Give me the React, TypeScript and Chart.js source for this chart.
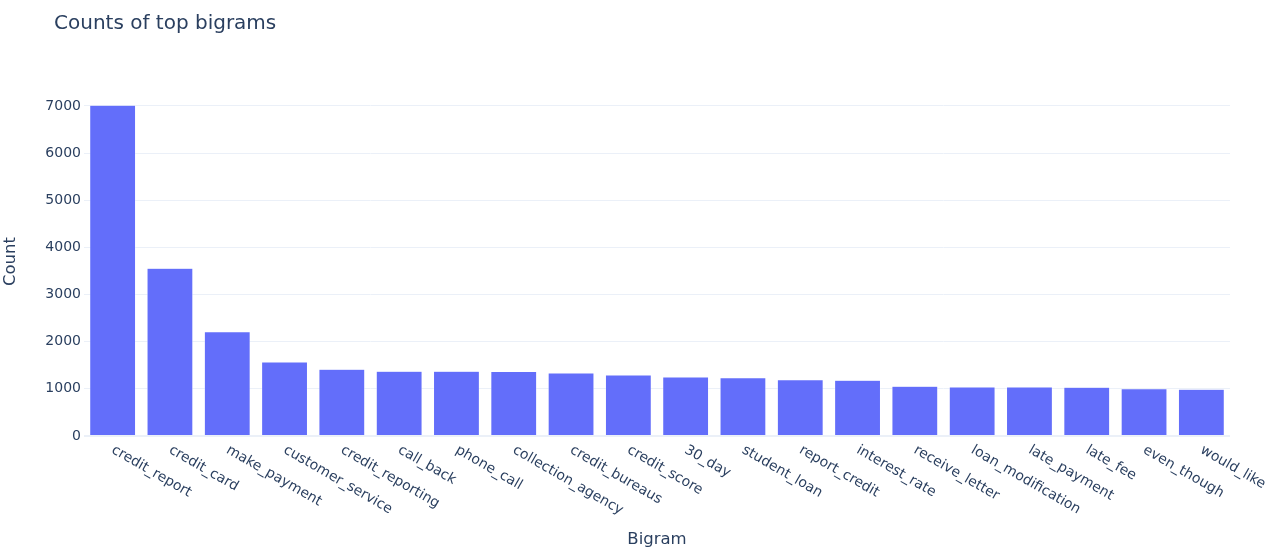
import React, { useEffect, useRef } from 'react';
import { Chart, registerables } from 'chart.js';

Chart.register(...registerables);

const bigrams = [
  'credit_report', 'credit_card', 'make_payment', 'customer_service', 'credit_reporting',
  'call_back', 'phone_call', 'collection_agency', 'credit_bureaus', 'credit_score',
  '30_day', 'student_loan', 'report_credit', 'interest_rate', 'receive_letter',
  'loan_modification', 'late_payment', 'late_fee', 'even_though', 'would_like',
];
const counts = [
  7015, 3557, 2213, 1570, 1414, 1372, 1372, 1365, 1336, 1294,
  1251, 1237, 1195, 1181, 1054, 1040, 1040, 1033, 1004, 990,
];
const countTicks = [0, 1000, 2000, 3000, 4000, 5000, 6000, 7000];

const FONT = '"DejaVu Sans", Verdana, sans-serif';
const TEXT = '#2a3f5f';

// plotly-style labels: rotated 30deg clockwise, hanging from the tick
const bigramLabels = {
  id: 'bigramLabels',
  afterDraw(chart: Chart) {
    const { ctx, scales } = chart;
    const x = scales.x;
    const bottom = chart.chartArea.bottom;
    ctx.save();
    ctx.fillStyle = TEXT;
    ctx.font = `14px ${FONT}`;
    ctx.textAlign = 'left';
    ctx.textBaseline = 'middle';
    bigrams.forEach((lab, i) => {
      ctx.save();
      ctx.translate(x.getPixelForValue(i), bottom + 13);
      ctx.rotate(Math.PI / 6);
      ctx.fillText(lab, 0, 0);
      ctx.restore();
    });
    // chart title
    ctx.font = `20px ${FONT}`;
    ctx.textBaseline = 'alphabetic';
    ctx.fillText('Counts of top bigrams', 54, 29);
    ctx.restore();
  },
};

const App: React.FC = () => {
  const chartRef = useRef<HTMLCanvasElement>(null);
  const chartInstance = useRef<Chart | null>(null);

  useEffect(() => {
    if (!chartRef.current) return;
    if (chartInstance.current) chartInstance.current.destroy();

    chartInstance.current = new Chart(chartRef.current, {
      type: 'bar',
      data: {
        labels: bigrams,
        datasets: [
          {
            data: counts,
            backgroundColor: '#636efa',
            borderColor: '#ffffff',
            borderWidth: 0.5,
            barPercentage: 0.8,
            categoryPercentage: 1,
          },
        ],
      },
      options: {
        responsive: false,
        animation: false,
        layout: { padding: { top: 87, right: 50, bottom: 0, left: 0 } },
        plugins: {
          legend: { display: false },
          tooltip: { enabled: false },
        },
        scales: {
          x: {
            grid: { display: false },
            border: { display: false },
            ticks: { display: false },
            title: {
              display: true,
              text: 'Bigram',
              color: TEXT,
              font: { family: FONT, size: 16.5 },
              padding: { top: 94, bottom: 9 },
            },
            afterFit: (scale) => {
              scale.height = 123;
            },
          },
          y: {
            min: 0,
            max: 7400,
            afterBuildTicks: (scale) => {
              scale.ticks = countTicks.map((v) => ({ value: v }));
            },
            grid: {
              color: '#ebf0f8',
              lineWidth: (c) => (c.tick && c.tick.value === 0 ? 2 : 1),
              drawTicks: false,
            },
            border: { display: false },
            ticks: {
              padding: 3,
              color: TEXT,
              font: { family: FONT, size: 14 },
              callback: (v) => String(v),
            },
            title: {
              display: true,
              text: 'Count',
              color: TEXT,
              font: { family: FONT, size: 16.5 },
              padding: { top: 1, bottom: 0 },
            },
            afterFit: (scale) => {
              scale.width = 84;
            },
          },
        },
      },
      plugins: [bigramLabels],
    });

    return () => {
      if (chartInstance.current) {
        chartInstance.current.destroy();
        chartInstance.current = null;
      }
    };
  }, []);

  return (
    <div style={{ position: 'absolute', left: 0, top: 0, width: 1280, height: 559, background: '#fff' }}>
      <canvas ref={chartRef} width={1280} height={559} style={{ display: 'block' }}></canvas>
    </div>
  );
};

export default App;
